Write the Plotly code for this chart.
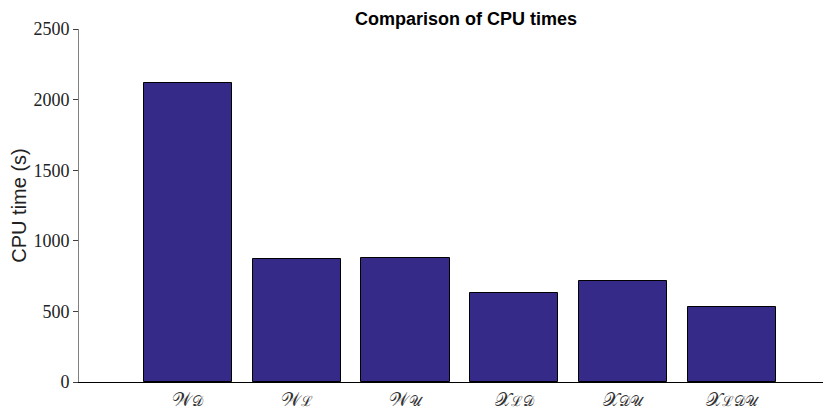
import plotly.graph_objects as go

SUB = "<span style='font-size:14px'>{}</span>"
categories = ["𝒲" + SUB.format("𝒟"), "𝒲" + SUB.format("ℒ"), "𝒲" + SUB.format("𝒰"),
              "𝒳" + SUB.format("ℒ𝒟"), "𝒳" + SUB.format("𝒟𝒰"), "𝒳" + SUB.format("ℒ𝒟𝒰")]
positions = [1, 2, 3, 4, 5, 6]
cpu_times = [2118, 874, 879, 633, 714, 530]
y_ticks = [0, 500, 1000, 1500, 2000, 2500]

fig = go.Figure()
fig.add_trace(go.Bar(
    x=positions, y=cpu_times, width=0.81,
    marker=dict(color="#352A87", line=dict(color="black", width=1)),
))

# page body has an 8px margin; figure is laid out accordingly
W, H = 823, 402
ml, mr, mt, mb = 71, 1, 21, 28
fig.update_layout(
    width=W, height=H,
    margin=dict(l=ml, r=mr, t=mt, b=mb, autoexpand=False),
    plot_bgcolor="white", paper_bgcolor="white",
    showlegend=False,
    bargap=0,
    title=dict(text="<b>Comparison of CPU times</b>",
               x=458 / W, xanchor="center", xref="container",
               y=1 - 11 / H, yanchor="middle", yref="container",
               font=dict(family="Liberation Sans, Arial", size=18, color="black")),
    xaxis=dict(range=[0, 6.9], tickmode="array", tickvals=positions, ticktext=categories,
               showgrid=False, zeroline=False, showline=True, linecolor="black", linewidth=1,
               ticks="", ticklabelstandoff=0, automargin=False,
               tickfont=dict(family="DejaVu Serif", size=19, color="#333"),
               fixedrange=True),
    yaxis=dict(range=[0, 2500], tickmode="array", tickvals=y_ticks, automargin=False,
               showgrid=False, zeroline=False, showline=True, linecolor="#808080", linewidth=1,
               ticks="outside", ticklen=5, tickcolor="#404040",
               tickfont=dict(family="Liberation Serif, DejaVu Serif", size=18, color="#222"),
               title=dict(text="CPU time (s)", standoff=4,
                          font=dict(family="Liberation Sans, Arial", size=20, color="#222")),
               fixedrange=True),
)

fig.write_html("out.html")
